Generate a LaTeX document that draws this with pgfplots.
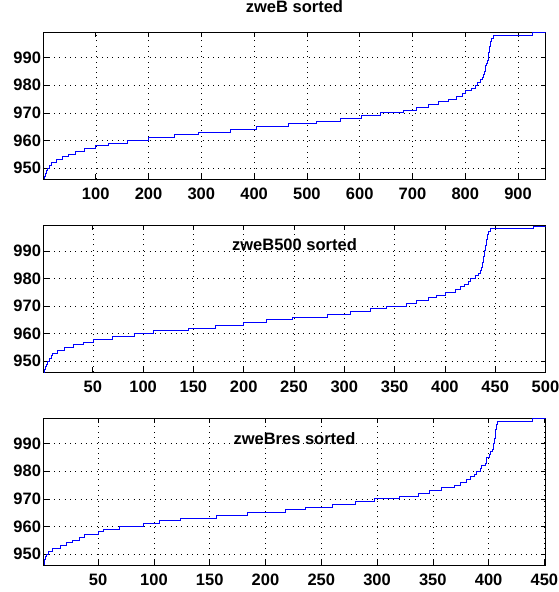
\documentclass[border=0pt]{standalone}
\usepackage{fontspec}
\setmainfont{Liberation Sans}
\usepackage{pgfplots}
\pgfplotsset{compat=1.18}

\newcommand{\zwefont}{\fontsize{16.5bp}{19bp}\selectfont\bfseries}

\pgfplotsset{
  zwe/.style={
    scale only axis, width=502bp, height=147bp,
    xmin=1, ymin=946, ymax=999.3,
    ytick={950,960,970,980,990},
    grid=major,
    grid style={black, line width=0.5bp, dash pattern=on 0.8bp off 4.5bp},
    tick align=inside,
    major tick length=5bp,
    axis line style={line width=0.9bp},
    tick style={black, line width=0.6bp},
    tick label style={font=\zwefont},
    xticklabel style={yshift=-5bp},
    yticklabel style={xshift=1bp},
    xticklabel={\bfseries\pgfmathprintnumber{\tick}},
    yticklabel={\bfseries\pgfmathprintnumber{\tick}},
    /pgf/number format/assume math mode=true,
    title style={font=\zwefont, anchor=base, at={(0.5,1)}},
    no markers,
    every axis plot/.append style={color=blue, line width=0.9bp, const plot},
  }
}

\begin{document}
\begin{tikzpicture}
\useasboundingbox (-43.5bp,-27bp) rectangle (515.5bp,565bp);

% top: zweB sorted
\begin{axis}[zwe, at={(0,386bp)}, anchor=south west,
  xmax=952, xtick={100,200,...,900},
  title={zweB sorted}, title style={yshift=13.7bp}]
\addplot coordinates {
(1,946)(2,947)(4,948)(6,949)(8,950)(12,951)(17,952)(26,953)(37,954)(48,955)
(62,956)(78,957)(99,958)(124,959)(160,960)(200,961)(249,962)(295,963)(356,964)
(405,965)(465,966)(519,967)(564,968)(604,969)(639,970)(682,971)(707,972)(730,973)
(749,974)(768,975)(784,976)(794,977)(801,978)(811,979)(819,980)(824,981)(828,982)
(833,983)(835,984)(836,985)(838,986)(839,987)(840,988)(842,989)(843,990)(844,992)
(845,993)(846,994)(847,995)(848,996)(849,997)(853,998)(927,999)(952,999)
};
\end{axis}

% middle: zweB500 sorted
\begin{axis}[zwe, at={(0,192.7bp)}, anchor=south west,
  xmax=500, xtick={50,100,...,500},
  title={zweB500 sorted}, title style={yshift=-31bp}]
\addplot coordinates {
(1,946)(2,947)(3,948)(4,949)(5,950)(7,951)(9,952)(10,953)(15,954)(22,955)(31,956)
(41,957)(51,958)(70,959)(91,960)(110,961)(145,962)(172,963)(200,964)(223,965)
(248,966)(283,967)(306,968)(326,969)(342,970)(362,971)(372,972)(384,973)(392,974)
(401,975)(410,976)(415,977)(419,978)(423,979)(425,980)(430,981)(433,982)(435,983)
(436,984)(437,986)(438,988)(439,990)(440,992)(441,994)(442,996)(443,997)(445,998)
(488,999)(500,999)
};
\end{axis}

% bottom: zweBres sorted
\begin{axis}[zwe, at={(0,0)}, anchor=south west,
  xmax=451, xtick={50,100,...,450},
  title={zweBres sorted}, title style={yshift=-32.5bp}]
\addplot coordinates {
(1,946)(2,948)(3,949)(4,950)(5,951)(9,952)(16,953)(22,954)(27,955)(33,956)(38,957)
(50,958)(55,959)(69,960)(91,961)(105,962)(124,963)(156,964)(184,965)(218,966)
(236,967)(260,968)(281,969)(298,970)(320,971)(337,972)(347,973)(358,974)(369,975)
(375,976)(380,977)(384,978)(387,979)(389,980)(393,981)(394,982)(397,983)(398,985)
(401,986)(402,987)(403,988)(404,990)(405,992)(406,995)(407,997)(408,998)(439,999)
(451,999)
};
\end{axis}
\end{tikzpicture}
\end{document}
